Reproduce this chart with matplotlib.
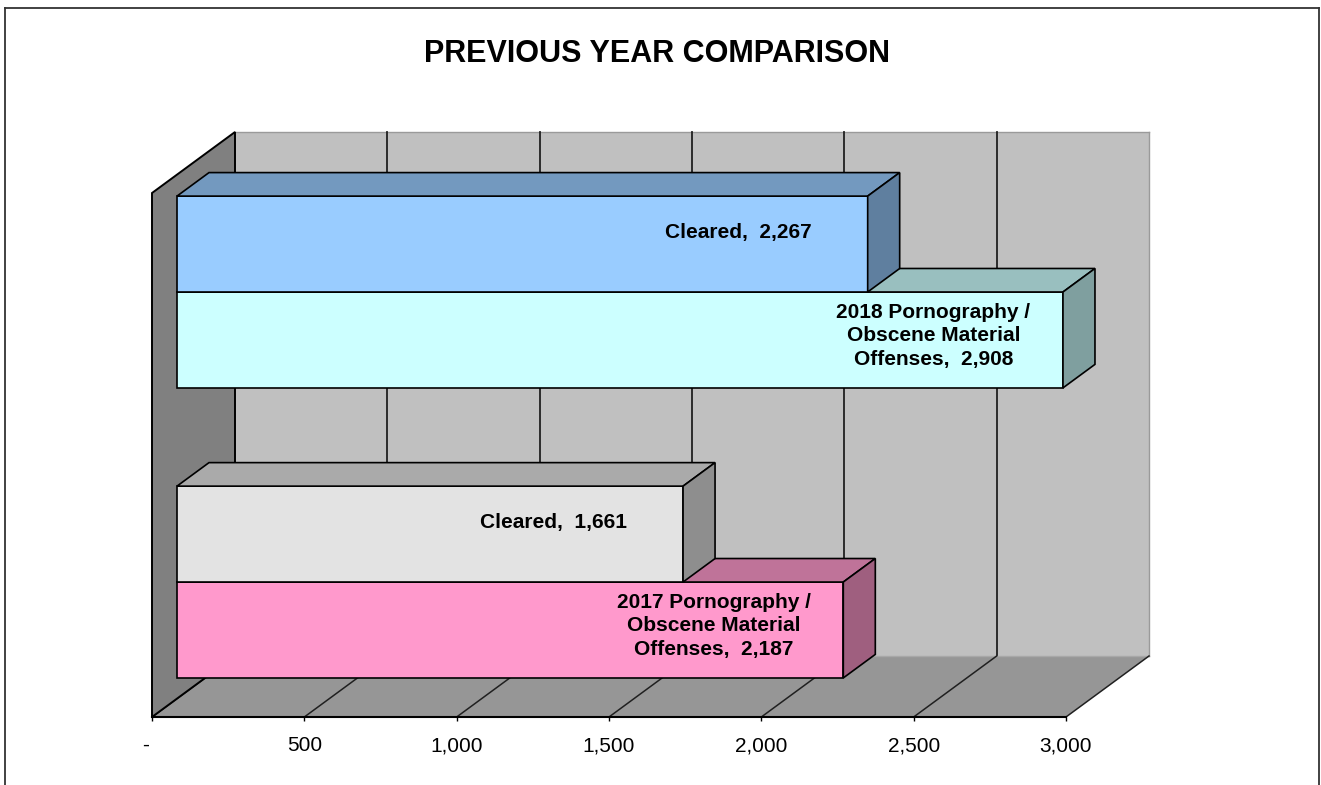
import matplotlib
matplotlib.use("Agg")
from matplotlib import pyplot as plt
from matplotlib.patches import Polygon
from matplotlib.lines import Line2D
from matplotlib.ticker import FuncFormatter

plt.rcParams['font.family'] = ['Liberation Sans', 'DejaVu Sans']

# data
categories = ['2017', '2018']
offenses = [2187, 2908]
cleared = [1661, 2267]
offense_labels = ['2017 Pornography /\nObscene Material\nOffenses,  2,187',
                  '2018 Pornography /\nObscene Material\nOffenses,  2,908']
cleared_labels = ['Cleared,  1,661', 'Cleared,  2,267']
ticks = [0, 500, 1000, 1500, 2000, 2500, 3000]

# colours (front, top, side)
off_cols = [('#FF99CC', '#BF7399', '#9F5F7F'), ('#CCFFFF', '#99BFBF', '#7F9F9F')]
clr_cols = [('#E3E3E3', '#AAAAAA', '#8E8E8E'), ('#99CCFF', '#7399BF', '#5F7F9F')]

W, H = 1321, 785
fig = plt.figure(figsize=(W / 100, H / 100), dpi=100)
ax = fig.add_axes([152 / W, 1 - 717 / H, 914 / W, 524 / H])
XMAX, YMAX = 3000, 2.0
ax.set_xlim(0, XMAX)
ax.set_ylim(0, YMAX)

# depth of the 3d box, in data units
DX = 83 * XMAX / 914
DY = 61 * YMAX / 524
PY = YMAX / 524  # one pixel in y

#? back wall
ax.add_patch(Polygon([(DX, DY), (XMAX + DX, DY), (XMAX + DX, YMAX + DY), (DX, YMAX + DY)],
                     closed=True, fc='#C0C0C0', ec='none', zorder=1, clip_on=False))
ax.plot([DX, XMAX + DX], [YMAX + DY, YMAX + DY], color='#9A9A9A', lw=1, zorder=1.1, clip_on=False)
for t in ticks[1:-1]:
    ax.plot([t + DX, t + DX], [DY, YMAX + DY], color='#202020', lw=1.3, zorder=1.1, clip_on=False)
ax.plot([XMAX + DX, XMAX + DX], [DY, YMAX + DY], color='#9A9A9A', lw=1, zorder=1.1, clip_on=False)

#? floor
ax.add_patch(Polygon([(0, 0), (XMAX, 0), (XMAX + DX, DY), (DX, DY)],
                     closed=True, fc='#969696', ec='none', zorder=1.2, clip_on=False))
ax.plot([DX, XMAX + DX], [DY, DY], color='#A8A8A8', lw=1, zorder=1.25, clip_on=False)
for t in ticks:
    ax.plot([t, t + DX], [0, DY], color='#202020', lw=1.1, zorder=1.3, clip_on=False)

#? left wall
ax.add_patch(Polygon([(0, 0), (DX, DY), (DX, YMAX + DY), (0, YMAX)],
                     closed=True, fc='#808080', ec='black', lw=1.4, zorder=1.4, clip_on=False))

#? bars
f1, f2 = 25 / 83, 57 / 83
ox1, oy1 = f1 * DX, f1 * DY
ox2, oy2 = f2 * DX, f2 * DY
cat_pos = [0.445, 1.552]
bar_h = 0.366
LABEL_SHIFT = 425


def bar3d(v, y0, y1, cols):
    front, top, side = cols
    ax.add_patch(Polygon([(ox1, y0 + oy1), (v + ox1, y0 + oy1), (v + ox1, y1 + oy1), (ox1, y1 + oy1)],
                         closed=True, fc=front, ec='black', lw=1.2, zorder=3, clip_on=False))
    ax.add_patch(Polygon([(ox1, y1 + oy1), (v + ox1, y1 + oy1), (v + ox2, y1 + oy2), (ox2, y1 + oy2)],
                         closed=True, fc=top, ec='black', lw=1.2, zorder=3, clip_on=False))
    ax.add_patch(Polygon([(v + ox1, y0 + oy1), (v + ox2, y0 + oy2), (v + ox2, y1 + oy2), (v + ox1, y1 + oy1)],
                         closed=True, fc=side, ec='black', lw=1.2, zorder=3, clip_on=False))


for i in range(len(categories)):
    c = cat_pos[i]
    bar3d(offenses[i], c - bar_h, c, off_cols[i])
    bar3d(cleared[i], c, c + bar_h, clr_cols[i])
    ax.text(offenses[i] + ox1 - LABEL_SHIFT, c - bar_h / 2 + oy1 + 4 * PY, offense_labels[i],
            ha='center', va='center', fontsize=15, fontweight='bold', linespacing=1.28, zorder=5)
    ax.text(cleared[i] + ox1 - LABEL_SHIFT, c + bar_h / 2 + (oy1 + oy2) / 2, cleared_labels[i],
            ha='center', va='center', fontsize=15, fontweight='bold', zorder=5)

#? axis
for s in ['left', 'right', 'top']:
    ax.spines[s].set_visible(False)
ax.spines['bottom'].set_linewidth(1.5)
ax.spines['bottom'].set_zorder(4)
ax.set_yticks([])
ax.set_xticks(ticks)
ax.xaxis.set_major_formatter(FuncFormatter(lambda v, p: '-  ' if v == 0 else f'{int(v):,}'))
ax.tick_params(axis='x', length=3, width=1, direction='out', pad=11, labelsize=15)
ax.patch.set_visible(False)

fig.text(657 / W, 1 - 54 / H, 'PREVIOUS YEAR COMPARISON', ha='center', va='center',
         fontsize=22, fontweight='bold')

#? chart border
fig.add_artist(Line2D([4.5 / W, 4.5 / W], [0, 1 - 7.5 / H], transform=fig.transFigure, color='#333333', lw=1.3))
fig.add_artist(Line2D([4.5 / W, 1318.5 / W], [1 - 7.5 / H, 1 - 7.5 / H], transform=fig.transFigure, color='#333333', lw=1.3))
fig.add_artist(Line2D([1318.5 / W, 1318.5 / W], [0, 1 - 7.5 / H], transform=fig.transFigure, color='#333333', lw=1.3))

fig.savefig('out.png', dpi=100)
